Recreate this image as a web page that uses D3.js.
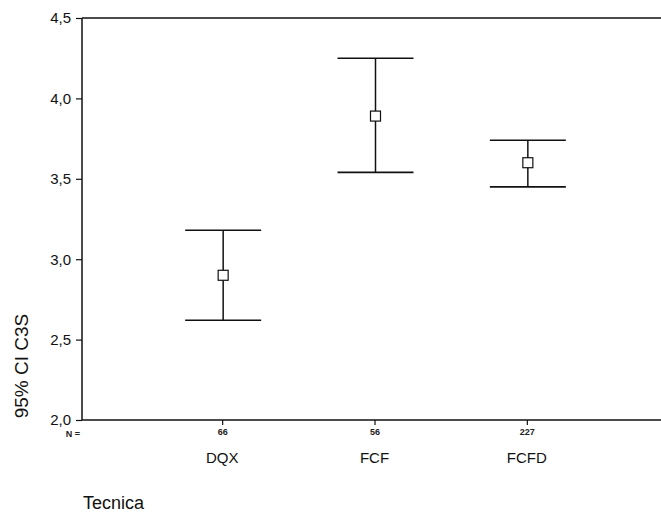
<!DOCTYPE html>
<html><head><meta charset="utf-8">
<script src="https://cdn.jsdelivr.net/npm/d3@7"></script>
<style>
html,body{margin:0;padding:0;background:#fff;}
svg{display:block;font-family:"Liberation Sans",Arial,sans-serif;}
</style></head>
<body>
<svg id="c" width="661" height="513"></svg>
<script>
const categories = ["DQX", "FCF", "FCFD"];
const nCounts = [66, 56, 227];
const means = [2.90, 3.89, 3.60];
const lower = [2.62, 3.54, 3.45];
const upper = [3.18, 4.25, 3.74];
const yTicks = [2.0, 2.5, 3.0, 3.5, 4.0, 4.5];
const yTitle = "95% CI C3S";
const xTitle = "Tecnica";

const svg = d3.select("#c");
const mLeft = 82, mTop = 18, mBottom = 420;

const y = d3.scaleLinear().domain([2.0, 4.5]).range([mBottom, mTop]);
const x = d3.scalePoint().domain(categories).range([mLeft, 667]).padding(0.92);

// frame top line
svg.append("line").attr("x1", mLeft).attr("x2", 661).attr("y1", mTop).attr("y2", mTop)
  .attr("stroke", "#111").attr("stroke-width", 1.5);

// y axis
const fmt = v => d3.format(".1f")(v).replace(".", ",");
const yAxis = svg.append("g").attr("transform", `translate(${mLeft},0)`)
  .call(d3.axisLeft(y).tickValues(yTicks).tickFormat(fmt).tickSize(6).tickPadding(5));
yAxis.select(".domain").attr("stroke", "#111").attr("stroke-width", 1.5).attr("d", `M0,${mTop}V${mBottom}`);
yAxis.selectAll(".tick line").attr("stroke", "#111").attr("stroke-width", 1.2);
yAxis.selectAll(".tick text").attr("font-size", 15).attr("fill", "#111")
  .attr("font-family", "Liberation Sans, Arial, sans-serif");

// x axis
const xAxis = svg.append("g").attr("transform", `translate(0,${mBottom})`)
  .call(d3.axisBottom(x).tickSize(5).tickFormat((d, i) => nCounts[i]).tickPadding(4));
xAxis.select(".domain").attr("stroke", "#111").attr("stroke-width", 1.5).attr("d", `M${mLeft},0H661`);
xAxis.selectAll(".tick line").attr("stroke", "#111").attr("stroke-width", 1.2);
xAxis.selectAll(".tick text").attr("font-size", 9).attr("font-weight", "bold").attr("fill", "#222")
  .attr("font-family", "Liberation Sans, Arial, sans-serif");

svg.append("text").attr("x", 80).attr("y", 437).attr("text-anchor", "end")
  .attr("font-size", 9).attr("font-weight", "bold").attr("fill", "#222").text("N =");

// category labels
svg.append("g").selectAll("text").data(categories).join("text")
  .attr("x", d => x(d)).attr("y", 463).attr("text-anchor", "middle")
  .attr("font-size", 15).attr("fill", "#111").text(d => d);

// titles
svg.append("text").attr("x", 83).attr("y", 509).attr("font-size", 18).attr("fill", "#111").text(xTitle);
svg.append("text").attr("transform", "translate(28,366) rotate(-90)").attr("text-anchor", "middle")
  .attr("font-size", 19).attr("fill", "#111").text(yTitle);

// error bars
const capW = 38;
const g = svg.append("g");
categories.forEach((c, i) => {
  const cx = x(c) + 1;
  g.append("line").attr("x1", cx).attr("x2", cx).attr("y1", y(upper[i])).attr("y2", y(lower[i]))
    .attr("stroke", "#111").attr("stroke-width", 1.5);
  [upper[i], lower[i]].forEach(v => {
    g.append("line").attr("x1", cx - capW).attr("x2", cx + capW).attr("y1", y(v)).attr("y2", y(v))
      .attr("stroke", "#111").attr("stroke-width", 1.6);
  });
  g.append("rect").attr("x", cx - 5).attr("y", y(means[i]) - 5).attr("width", 10).attr("height", 10)
    .attr("fill", "#fff").attr("stroke", "#111").attr("stroke-width", 1.2);
});
</script>
</body></html>
